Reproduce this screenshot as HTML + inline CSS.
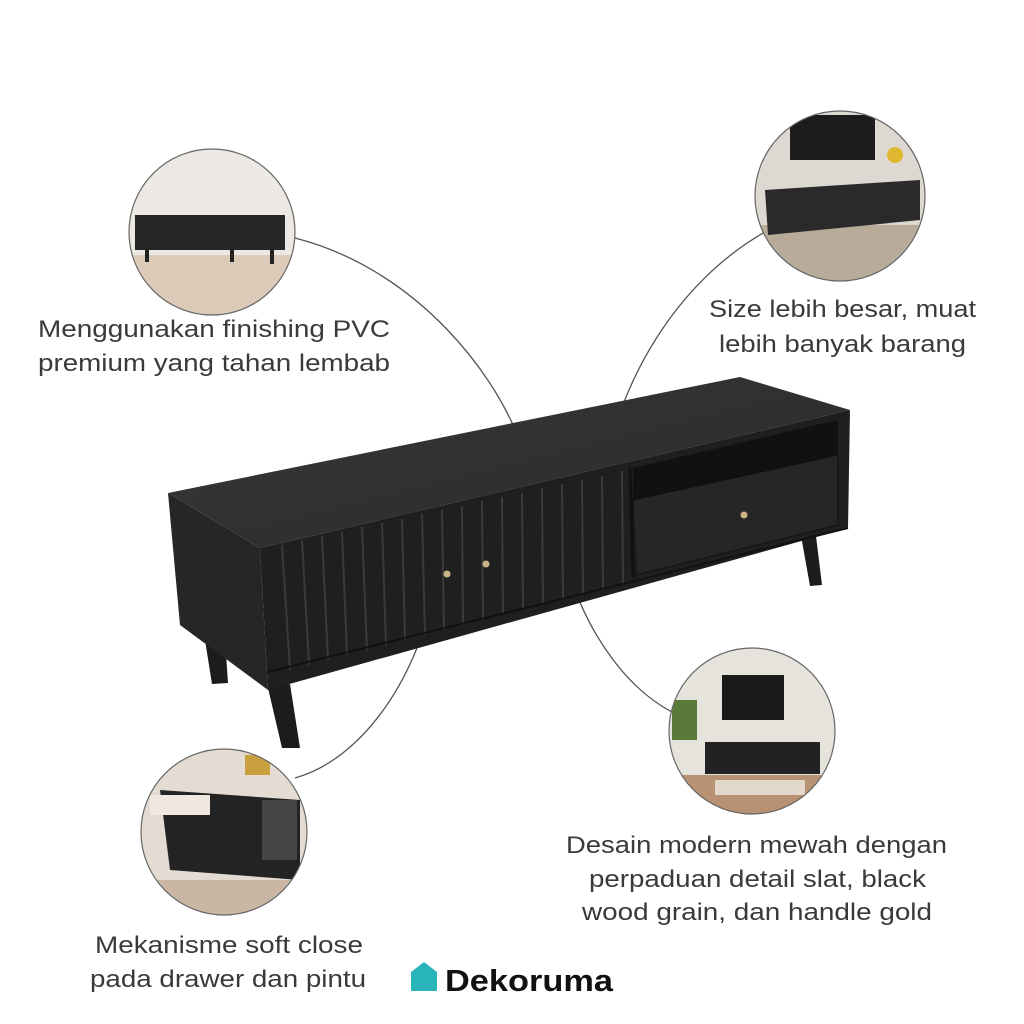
<!DOCTYPE html>
<html><head><meta charset="utf-8"><style>
html,body{margin:0;padding:0;background:#fff}
svg{display:block}
text{font-family:"Liberation Sans","DejaVu Sans",sans-serif;fill:#3a3a3a}
</style></head><body>
<svg width="1024" height="1024" viewBox="0 0 1024 1024" xmlns="http://www.w3.org/2000/svg">
<defs>
<clipPath id="c1"><circle cx="212" cy="232" r="83"/></clipPath>
<clipPath id="c2"><circle cx="840" cy="196" r="85"/></clipPath>
<clipPath id="c3"><circle cx="752" cy="731" r="83"/></clipPath>
<clipPath id="c4"><circle cx="224" cy="832" r="83"/></clipPath>
<linearGradient id="top" x1="0" y1="0" x2="1" y2="1"><stop offset="0" stop-color="#3a3837"/><stop offset="1" stop-color="#2a2928"/></linearGradient>
</defs>
<rect width="1024" height="1024" fill="#fff"/>

<g fill="none" stroke="#555" stroke-width="1.3">
<path d="M295,238 C420,270 500,380 522,448"/>
<path d="M765,232 C680,280 615,380 600,495"/>
<path d="M437,575 C420,680 360,760 295,778"/>
<path d="M568,570 C590,640 630,690 672,712"/>
</g>

<polygon points="205,640 225,640 228,683 212,684" fill="#1c1c1c"/>
<polygon points="800,530 815,528 822,585 810,586" fill="#1c1c1c"/>
<polygon points="168,493 260,548 268,690 180,625" fill="#262626"/>
<polygon points="168,493 740,377 850,410 260,548" fill="url(#top)"/>
<polygon points="260,548 850,410 848,528 268,690" fill="#1f1f1f"/>
<g stroke="#3a3a3a" stroke-width="2">
<line x1="282" y1="545" x2="290" y2="670"/><line x1="302" y1="540" x2="309" y2="665"/><line x1="322" y1="536" x2="328" y2="660"/><line x1="342" y1="532" x2="347" y2="655"/><line x1="362" y1="527" x2="367" y2="650"/><line x1="382" y1="523" x2="386" y2="645"/><line x1="402" y1="519" x2="405" y2="640"/><line x1="422" y1="514" x2="425" y2="635"/><line x1="442" y1="510" x2="444" y2="630"/><line x1="462" y1="506" x2="463" y2="625"/><line x1="482" y1="501" x2="483" y2="620"/><line x1="502" y1="497" x2="503" y2="615"/><line x1="522" y1="493" x2="523" y2="610"/><line x1="542" y1="488" x2="543" y2="605"/><line x1="562" y1="484" x2="563" y2="600"/><line x1="582" y1="480" x2="583" y2="595"/><line x1="602" y1="476" x2="603" y2="590"/><line x1="622" y1="471" x2="623" y2="585"/>
</g>
<line x1="630" y1="468" x2="633" y2="578" stroke="#111" stroke-width="3"/>
<polygon points="633,468 838,420 838,455 633,500" fill="#111"/>
<polygon points="633,500 838,455 838,525 636,575" fill="#262626" stroke="#111"/>
<line x1="268" y1="672" x2="848" y2="528" stroke="#111" stroke-width="2"/>
<circle cx="447" cy="574" r="3.5" fill="#c9b48a"/><circle cx="486" cy="564" r="3.5" fill="#c9b48a"/><circle cx="744" cy="515" r="3.5" fill="#c9b48a"/>
<polygon points="268,688 290,684 300,748 282,748" fill="#1c1c1c"/>

<g clip-path="url(#c1)"><rect x="120" y="140" width="190" height="190" fill="#ece8e4"/><rect x="120" y="255" width="190" height="80" fill="#dccbb8"/><polygon points="135,215 285,215 285,250 135,250" fill="#252525"/><rect x="145" y="250" width="4" height="12" fill="#222"/><rect x="270" y="250" width="4" height="14" fill="#222"/><rect x="230" y="250" width="4" height="12" fill="#222"/></g>
<circle cx="212" cy="232" r="83" fill="none" stroke="#666" stroke-width="1.2"/>
<g clip-path="url(#c2)"><rect x="750" y="110" width="180" height="180" fill="#ddd8d2"/><rect x="750" y="225" width="180" height="70" fill="#b8ab9a"/><rect x="790" y="115" width="85" height="45" fill="#1c1c1c"/><polygon points="765,190 920,180 920,220 768,235" fill="#2a2a2a"/><circle cx="895" cy="155" r="8" fill="#e0b830"/></g>
<circle cx="840" cy="196" r="85" fill="none" stroke="#666" stroke-width="1.2"/>
<g clip-path="url(#c3)"><rect x="665" y="645" width="180" height="180" fill="#e6e2dc"/><rect x="665" y="775" width="180" height="60" fill="#b89272"/><rect x="722" y="675" width="62" height="45" fill="#1a1a1a"/><rect x="705" y="742" width="115" height="32" fill="#222"/><rect x="672" y="700" width="25" height="40" fill="#5a7a3a"/><rect x="715" y="780" width="90" height="15" fill="#e2d9cc"/></g>
<circle cx="752" cy="731" r="83" fill="none" stroke="#666" stroke-width="1.2"/>
<g clip-path="url(#c4)"><rect x="140" y="748" width="170" height="170" fill="#e4dcd3"/><polygon points="160,790 300,800 300,880 170,870" fill="#232323"/><rect x="262" y="800" width="35" height="60" fill="#444"/><rect x="150" y="795" width="60" height="20" fill="#f0e8e0"/><rect x="245" y="755" width="25" height="20" fill="#c8a040"/><rect x="140" y="880" width="170" height="40" fill="#c9b7a3"/></g>
<circle cx="224" cy="832" r="83" fill="none" stroke="#666" stroke-width="1.2"/>

<g font-size="24" lengthAdjust="spacingAndGlyphs">
<text x="38" y="337" textLength="352" lengthAdjust="spacingAndGlyphs">Menggunakan finishing PVC</text>
<text x="38" y="371" textLength="352" lengthAdjust="spacingAndGlyphs">premium yang tahan lembab</text>
<text x="709" y="317" textLength="267" lengthAdjust="spacingAndGlyphs">Size lebih besar, muat</text>
<text x="719" y="352" textLength="247" lengthAdjust="spacingAndGlyphs">lebih banyak barang</text>
<text x="566" y="853" textLength="381" lengthAdjust="spacingAndGlyphs">Desain modern mewah dengan</text>
<text x="589" y="887" textLength="337" lengthAdjust="spacingAndGlyphs">perpaduan detail slat, black</text>
<text x="582" y="920" textLength="350" lengthAdjust="spacingAndGlyphs">wood grain, dan handle gold</text>
<text x="95" y="953" textLength="268" lengthAdjust="spacingAndGlyphs">Mekanisme soft close</text>
<text x="90" y="987" textLength="276" lengthAdjust="spacingAndGlyphs">pada drawer dan pintu</text>
</g>
<path d="M411,978 L411,972 L424,962 L437,972 L437,991 L411,991 Z" fill="#28b4b8"/>
<text x="445" y="991" font-size="31" font-weight="bold" textLength="168" lengthAdjust="spacingAndGlyphs" style="fill:#111">Dekoruma</text>
</svg>
</body></html>
